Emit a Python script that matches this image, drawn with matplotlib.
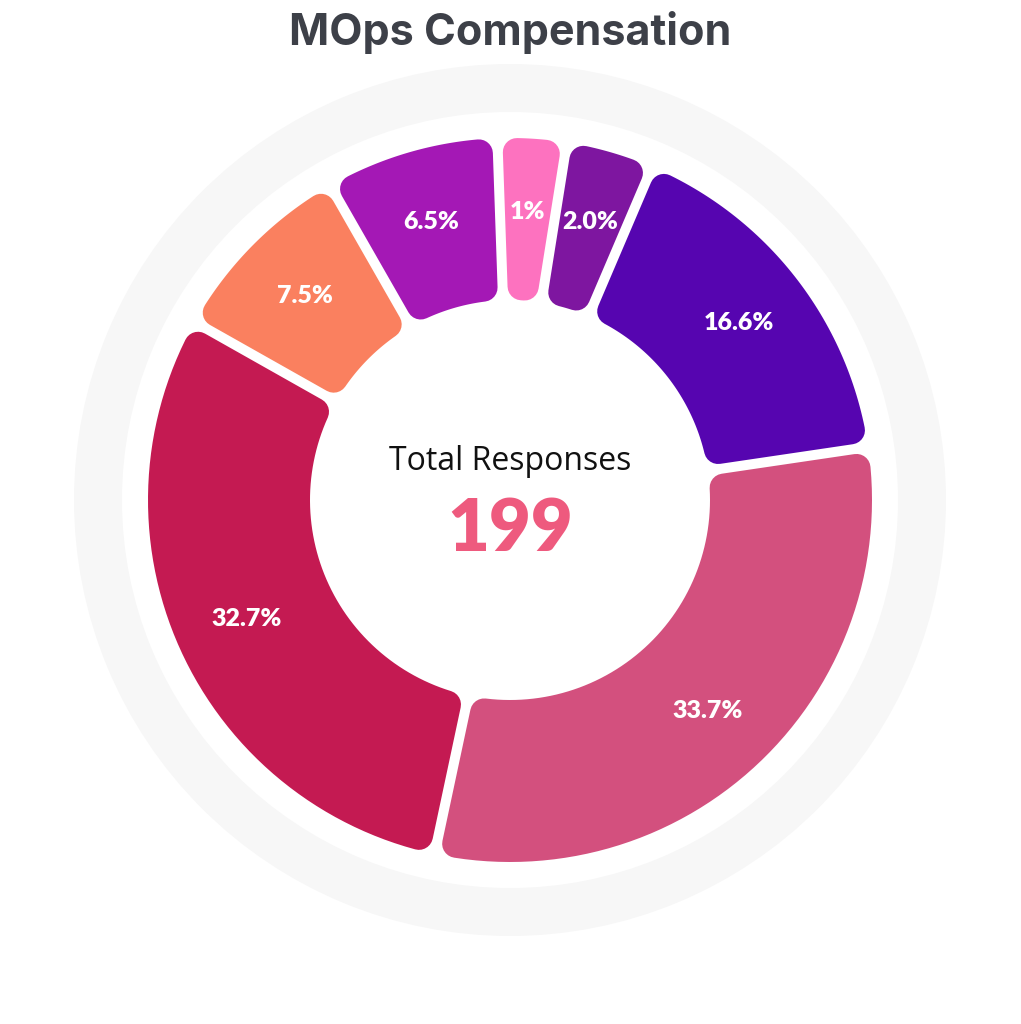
import numpy as np
import matplotlib
matplotlib.use("Agg")
import matplotlib.pyplot as plt
from matplotlib.patches import Polygon, Wedge

labels = ["1%", "2.0%", "16.6%", "33.7%", "32.7%", "7.5%", "6.5%"]
values = [1.0, 2.0, 16.6, 33.7, 32.7, 7.5, 6.5]
colors = ["#FD72BF", "#7E16A0", "#5605B0", "#D3507E", "#C41A52", "#FA805F", "#A418B5"]
title = "MOps Compensation"
total = 199

W, H = 1021, 1024
fig = plt.figure(figsize=(W/100, H/100), dpi=100)
ax = fig.add_axes([0, 0, 1, 1])
ax.set_xlim(0, W); ax.set_ylim(0, H); ax.axis("off")

cx, cy = 510, H - 500
R_out, R_in = 362, 200
gap, d = 10, 14

ax.add_patch(Wedge((cx, cy), 436, 0, 360, width=48, color="#F7F7F7", lw=0))

v = np.array(values)
P = 8.0
k = (360 - P * len(v)) / (3.6 * v.sum())
spans = v * 3.6 * k + P

start = 92.0
for lab, span, col in zip(labels, spans, colors):
    a0 = start; a1 = start - span
    start = a1
    h = gap / 2 + d
    R, r = R_out - d, R_in + d
    dR = np.degrees(np.arcsin(h / R)); dr = np.degrees(np.arcsin(h / r))
    to = np.linspace(a0 - dR, a1 + dR, 60)
    ti = np.linspace(a1 + dr, a0 - dr, 60)
    pts = np.concatenate([
        np.c_[cx + R*np.cos(np.radians(to)), cy + R*np.sin(np.radians(to))],
        np.c_[cx + r*np.cos(np.radians(ti)), cy + r*np.sin(np.radians(ti))]])
    ax.add_patch(Polygon(pts, closed=True, facecolor=col, edgecolor=col,
                         lw=2*d*0.72, joinstyle="round"))
    am = np.radians((a0 + a1) / 2)
    rm = (R_out + R_in) / 2 + 8
    ax.text(cx + rm*np.cos(am), cy + rm*np.sin(am), lab, color="white",
            fontsize=18, fontweight="heavy", family="Lato", ha="center", va="center")

ax.text(W/2, H - 33, title, fontsize=31, fontweight="bold", color="#3D4048",
        family="Inter", ha="center", va="center")
ax.text(cx, H - 462, "Total Responses", fontsize=23, color="#111111",
        family="Open Sans", ha="center", va="center")
ax.text(cx, H - 530, str(total), fontsize=52, fontweight="heavy", color="#EE5A7E",
        family="Lato", ha="center", va="center")

fig.savefig("out.png", dpi=100, facecolor="white")
